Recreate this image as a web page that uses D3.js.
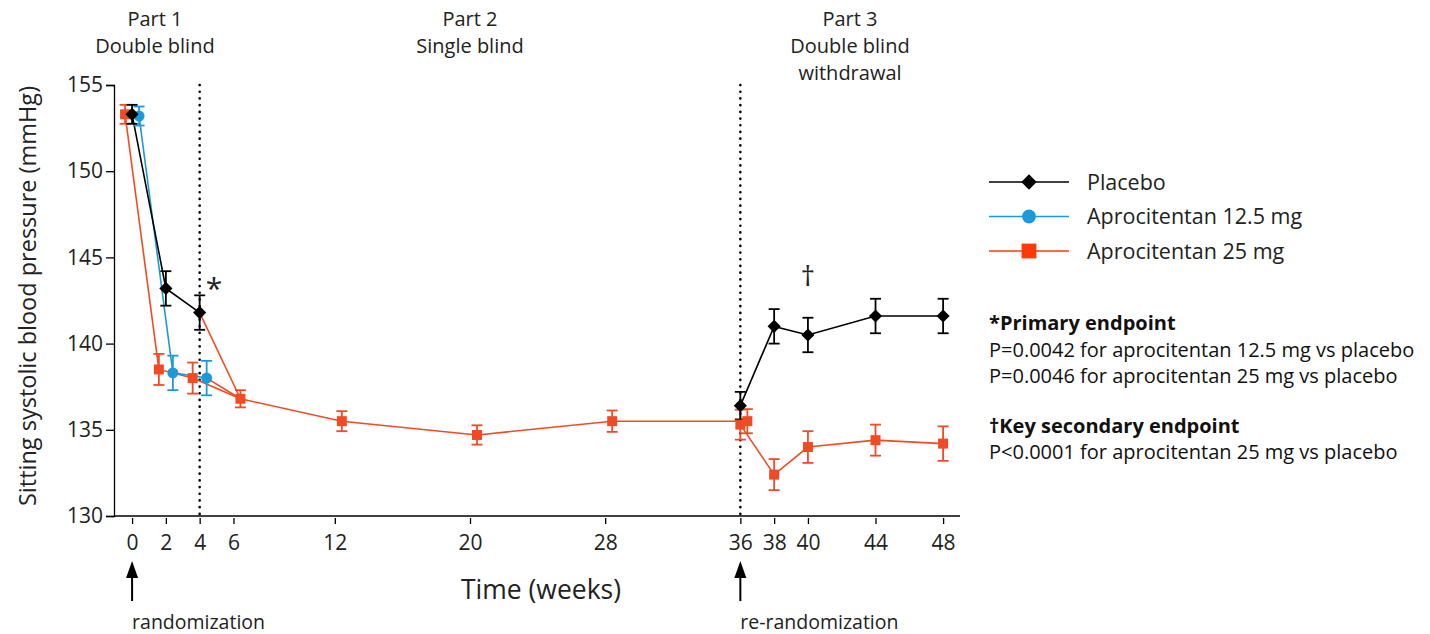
<!DOCTYPE html>
<html>
<head>
<meta charset="utf-8">
<script src="https://cdn.jsdelivr.net/npm/d3@7"></script>
<style>
  body { margin: 0; background: #fff; }
  svg text { font-family: "Open Sans", sans-serif; fill: #222; }
  .axis path, .axis line { stroke: #000; stroke-width: 1.3; }
  .axis text { font-size: 21px; fill: #222; }
</style>
</head>
<body>
<svg id="chart" width="1430" height="634"></svg>
<script>
// ---- data (mean, SE) ----
const xTicks = [0, 2, 4, 6, 12, 20, 28, 36, 38, 40, 44, 48]
const yTicks = [130, 135, 140, 145, 150, 155]

// Part 1 (double blind)
const p1Weeks = [0, 2, 4]
const p1Placebo = [153.3, 143.2, 141.8]
const p1PlaceboErr = [0.55, 1.0, 1.0]
const p1Apro12 = [153.2, 138.3, 138.0]
const p1Apro12Err = [0.55, 1.0, 1.0]
const p1Apro25 = [153.3, 138.5, 138.0]
const p1Apro25Err = [0.55, 0.9, 0.9]

// Part 2 (single blind, everyone on 25 mg)
const p2Weeks = [6, 12, 20, 28, 36]
const p2Apro25 = [136.8, 135.5, 134.7, 135.5, 135.5]
const p2Apro25Err = [0.5, 0.58, 0.56, 0.62, 0.7]

// Part 3 (double blind withdrawal)
const p3Weeks = [36, 38, 40, 44, 48]
const p3Placebo = [136.4, 141.0, 140.5, 141.6, 141.6]
const p3PlaceboErr = [0.8, 1.0, 1.0, 1.0, 1.0]
const p3Apro25 = [135.3, 132.4, 134.0, 134.4, 134.2]
const p3Apro25Err = [0.87, 0.9, 0.92, 0.9, 1.0]

const legendLabels = ["Placebo", "Aprocitentan 12.5 mg", "Aprocitentan 25 mg"]

const BLACK = "#000", BLUE = "#1a9ad9", RED = "#f04b24"

const svg = d3.select("#chart")
const x = d3.scaleLinear().domain([-1.07, 49]).range([114, 960])
const y = d3.scaleLinear().domain([130, 155]).range([516, 85])

// ---- axes ----
svg.append("g").attr("class", "axis")
    .attr("transform", "translate(114,0)")
    .call(d3.axisLeft(y).tickValues(yTicks).tickSize(8).tickPadding(3))

const xAxis = svg.append("g").attr("class", "axis")
    .attr("transform", "translate(0,516)")
xAxis.append("line").attr("x1", 114).attr("x2", 960).attr("stroke", "#000").attr("stroke-width", 1.3)
xAxis.append("g")
    .attr("transform", "translate(0,2)")
    .call(d3.axisBottom(x).tickValues(xTicks).tickSize(6).tickPadding(11).tickSizeOuter(0))
    .call(g => g.select(".domain").remove())

// ---- dotted phase separators ----
;[4, 36].forEach(w => {
    svg.append("line")
        .attr("x1", x(w)).attr("x2", x(w))
        .attr("y1", 85).attr("y2", 516)
        .attr("stroke", "#000").attr("stroke-width", 2.6)
        .attr("stroke-linecap", "round")
        .attr("stroke-dasharray", "0.1,6.6")
})

// ---- helpers ----
const line = d3.line().x(d => d.px).y(d => y(d.v))

function pts(weeks, vals, errs, dx) {
    return weeks.map((w, i) => ({ px: x(w) + dx, v: vals[i], e: errs[i] }))
}

function errorBars(data, color) {
    const g = svg.append("g").attr("stroke", color).attr("stroke-width", 1.8)
    data.forEach(d => {
        g.append("line").attr("x1", d.px).attr("x2", d.px).attr("y1", y(d.v + d.e)).attr("y2", y(d.v - d.e))
        g.append("line").attr("x1", d.px - 5.5).attr("x2", d.px + 5.5).attr("y1", y(d.v + d.e)).attr("y2", y(d.v + d.e))
        g.append("line").attr("x1", d.px - 5.5).attr("x2", d.px + 5.5).attr("y1", y(d.v - d.e)).attr("y2", y(d.v - d.e))
    })
}

function path(data, color) {
    svg.append("path").datum(data).attr("d", line)
        .attr("fill", "none").attr("stroke", color).attr("stroke-width", 1.6)
}

const sym = {
    diamond: d3.symbol().type(d3.symbolDiamond2),
    circle: d3.symbol().type(d3.symbolCircle),
    square: d3.symbol().type(d3.symbolSquare)
}

function markers(data, kind, size, color) {
    svg.append("g").selectAll("path").data(data).join("path")
        .attr("transform", d => `translate(${d.px},${y(d.v)})`)
        .attr("d", sym[kind].size(size)())
        .attr("fill", color)
}

// ---- series ----
const plc1 = pts(p1Weeks, p1Placebo, p1PlaceboErr, 0)
const a12 = pts(p1Weeks, p1Apro12, p1Apro12Err, 7)
const a25 = pts(p1Weeks, p1Apro25, p1Apro25Err, -7)
const a25p2 = pts(p2Weeks, p2Apro25, p2Apro25Err, 7)
const plc3 = pts(p3Weeks, p3Placebo, p3PlaceboErr, 0)
const a25p3 = pts(p3Weeks, p3Apro25, p3Apro25Err, 0)

// switch to 25 mg at week 4
;[plc1, a12, a25].forEach(s => path([s[2], a25p2[0]], RED))
path(a25p2, RED)
path(a25p3, RED)
path(a25, RED)
path(a12, BLUE)
path(plc1, BLACK)
path(plc3, BLACK)

errorBars(a25, RED); errorBars(a25p2, RED); errorBars(a25p3, RED)
errorBars(a12, BLUE)
errorBars(plc1, BLACK); errorBars(plc3, BLACK)

markers(a25, "square", 100, RED)
markers(a25p2, "square", 100, RED)
markers(a25p3, "square", 100, RED)
markers(a12, "circle", 95, BLUE)
markers(plc1, "diamond", 110, BLACK)
markers(plc3, "diamond", 110, BLACK)

// significance marks
svg.append("text").attr("x", x(4) + 6).attr("y", 299).style("font-size", "30px").text("*")
svg.append("text").attr("x", x(40)).attr("y", 286).attr("text-anchor", "middle").style("font-size", "28px").text("†")

// ---- phase headers ----
const headers = [
    { cx: 155, lines: ["Part 1", "Double blind"] },
    { cx: 470, lines: ["Part 2", "Single blind"] },
    { cx: 850, lines: ["Part 3", "Double blind", "withdrawal"] }
]
headers.forEach(h => {
    const t = svg.append("text").attr("text-anchor", "middle").style("font-size", "20px")
    h.lines.forEach((l, i) => t.append("tspan").attr("x", h.cx).attr("y", 26 + i * 27).text(l))
})

// ---- axis titles ----
svg.append("text").attr("transform", "translate(36,296) rotate(-90)")
    .attr("text-anchor", "middle").style("font-size", "23.5px")
    .text("Sitting systolic blood pressure (mmHg)")
svg.append("text").attr("x", 541).attr("y", 599).attr("text-anchor", "middle")
    .style("font-size", "26.5px").text("Time (weeks)")

// ---- randomization arrows ----
;[[0, "randomization"], [36, "re-randomization"]].forEach(([w, label]) => {
    const ax = x(w)
    svg.append("line").attr("x1", ax).attr("x2", ax)
        .attr("y1", 601).attr("y2", 575)
        .attr("stroke", "#000").attr("stroke-width", 2)
    svg.append("path")
        .attr("d", `M${ax},561 L${ax - 6},578 L${ax + 6},578 Z`)
        .attr("fill", "#000")
    svg.append("text").attr("x", ax).attr("y", 629).style("font-size", "19.5px").text(label)
})

// ---- legend ----
const legendMarks = [["diamond", 150, BLACK], ["circle", 150, BLUE], ["square", 220, "#ff3a0a"]]
const legendLineColors = [BLACK, BLUE, "#ff3a0a"]
legendLabels.forEach((lab, i) => {
    const ly = 182 + i * 34.5
    svg.append("line").attr("x1", 989).attr("x2", 1069).attr("y1", ly).attr("y2", ly)
        .attr("stroke", legendLineColors[i]).attr("stroke-width", 1.6)
    svg.append("path").attr("transform", `translate(1029,${ly})`)
        .attr("d", sym[legendMarks[i][0]].size(legendMarks[i][1])()).attr("fill", legendMarks[i][2])
    svg.append("text").attr("x", 1087).attr("y", ly + 7.5).style("font-size", "21.5px").text(lab)
})

// ---- endpoint notes ----
const notes = [
    ["*Primary endpoint", true, 330],
    ["P=0.0042 for aprocitentan 12.5 mg vs placebo", false, 357],
    ["P=0.0046 for aprocitentan 25 mg vs placebo", false, 383],
    ["†Key secondary endpoint", true, 433],
    ["P<0.0001 for aprocitentan 25 mg vs placebo", false, 459]
]
notes.forEach(([t, bold, ny]) => {
    svg.append("text").attr("x", 989).attr("y", ny).style("font-size", "20px")
        .style("font-weight", bold ? 700 : 400).style("fill", "#111").text(t)
})
</script>
</body>
</html>
